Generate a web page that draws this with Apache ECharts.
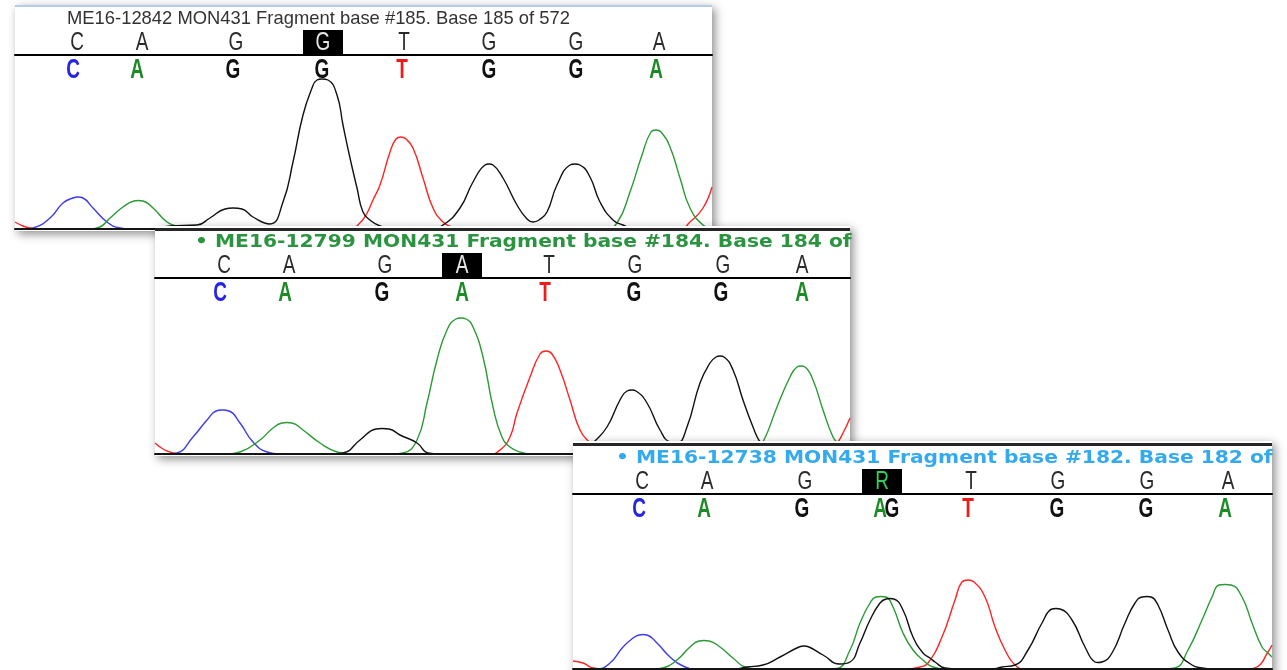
<!DOCTYPE html>
<html>
<head>
<meta charset="utf-8">
<script src="https://cdn.jsdelivr.net/npm/echarts@6/dist/echarts.min.js"></script>
<style>
html, body { margin: 0; padding: 0; background: #fff; }
#chart { width: 1287px; height: 670px; }
</style>
</head>
<body>
<div id="chart"></div>
<script>
// ---- panel 1 : ME16-12842 (x = scan offset, y = signal) ----
var p1Title = 'ME16-12842 MON431 Fragment base #185. Base 185 of 572';
var p1Calls = ['C', 'A', 'G', 'G', 'T', 'G', 'G', 'A'];
var p1CallPos = [62, 127, 221, 308, 389, 474, 561, 644];
var p1Hl = 3;
var p1Peaks = ['C', 'A', 'G', 'G', 'T', 'G', 'G', 'A'];
var p1PeakPos = [58, 122, 218, 307, 387, 474, 561, 641];
var p1T = [[0,7],[8,3],[15,1],[25,0],[335,0],[343,4],[351,14],[358,29],[365,44],[375,77],[381,90],[386,92],[391,90],[398,81],[408,51],[418,21],[428,7],[437,2],[447,0],[665,0],[675,7],[688,21],[697,42]];
var p1C = [[0,0],[10,0],[18,1],[35,11],[48,26],[58,31],[63,32],[68,31],[78,21],[92,7],[105,1],[115,0],[697,0]];
var p1A = [[0,0],[75,0],[85,2],[95,11],[108,22],[119,28],[123,28.5],[128,28],[138,21],[152,7],[162,3],[175,0],[590,0],[602,6],[615,37],[627,74],[636,97],[641,99],[646,97],[655,82],[665,51],[675,21],[688,4],[697,1]];
var p1G = [[0,0],[140,0],[155,3],[182,4],[195,11],[210,20],[218,21],[227,20],[238,12],[255,5],[268,27],[278,67],[288,114],[297,141],[302,149],[307,150],[313,149],[322,134],[328,104],[335,71],[342,41],[348,17],[355,9],[365,3],[380,0],[415,0],[428,4],[445,21],[458,47],[470,64],[474,65],[478,64],[488,51],[502,24],[512,10],[518,7],[524,9],[532,17],[542,44],[555,64],[560,65],[565,64],[575,52],[585,27],[598,9],[608,4],[620,0],[697,0]];

// ---- panel 2 : ME16-12799 ----
var p2Title = '\u2022 ME16-12799 MON431 Fragment base #184. Base 184 of';
var p2Calls = ['C', 'A', 'G', 'A', 'T', 'G', 'G', 'A'];
var p2CallPos = [69, 134, 230, 307, 394, 480, 568, 647];
var p2Hl = 3;
var p2Peaks = ['C', 'A', 'G', 'A', 'T', 'G', 'G', 'A'];
var p2PeakPos = [65, 130, 227, 307, 390, 479, 566, 647];
var p2T = [[0,11],[8,5],[15,2],[25,0],[335,0],[345,4],[355,17],[362,41],[375,77],[385,100],[391,103],[397,100],[405,84],[415,54],[425,24],[435,11],[443,4],[455,0],[670,0],[680,8],[688,21],[695,36]];
var p2C = [[0,0],[12,0],[22,1],[38,17],[52,34],[61,43],[67,44],[74,43],[85,31],[98,12],[112,2],[125,0],[695,0]];
var p2A = [[0,0],[72,0],[85,2],[105,14],[118,26],[127,31],[132,31.5],[137,31],[148,24],[165,11],[182,2],[195,0],[238,0],[248,1],[262,14],[272,51],[282,94],[292,124],[301,135],[306,136],[311,135],[318,127],[328,97],[338,47],[347,17],[355,7],[365,2],[378,0],[590,0],[600,4],[608,12],[622,47],[635,77],[642,87],[646,88],[650,87],[658,74],[668,44],[678,17],[683,11],[690,4],[695,1]];
var p2G = [[0,0],[175,0],[188,1],[205,14],[221,25],[227,25.5],[234,25],[245,19],[262,11],[273,1],[285,0],[420,0],[430,4],[438,11],[452,27],[465,54],[472,63],[477,64],[481,63],[492,51],[505,24],[515,12],[522,11],[532,27],[545,71],[555,91],[561,97],[565,98],[569,97],[578,84],[588,54],[598,27],[605,12],[613,4],[625,0],[695,0]];

// ---- panel 3 : ME16-12738 (mixed A/G call) ----
var p3Title = '\u2022 ME16-12738 MON431 Fragment base #182. Base 182 of';
var p3Calls = ['C', 'A', 'G', 'R', 'T', 'G', 'G', 'A'];
var p3CallPos = [69, 134, 232, 309, 398, 485, 574, 655];
var p3Hl = 3;
var p3Peaks = ['C', 'A', 'G', 'A', 'G', 'T', 'G', 'G', 'A'];
var p3PeakPos = [66, 131, 229, 307, 319, 395, 484, 573, 652];
var p3T = [[0,8],[10,6],[20,1],[30,0],[335,0],[347,2],[355,6],[369,32],[382,69],[389,87],[395,89],[401,87],[412,72],[422,42],[432,19],[442,4],[452,0],[674,0],[684,2],[695,17],[699,24]];
var p3C = [[0,0],[24,0],[37,6],[50,22],[60,31],[66,34],[70,34.5],[74,34],[84,26],[97,12],[110,3],[124,0],[699,0]];
var p3A = [[0,0],[80,0],[90,1],[104,9],[117,22],[126,28],[131,28.5],[136,28],[147,22],[160,11],[172,2],[185,0],[254,0],[264,0.5],[277,19],[287,46],[297,66],[303,72],[308,72.5],[313,72],[320,62],[330,36],[340,19],[350,9],[360,2],[372,0],[590,0],[602,1],[615,19],[629,49],[639,72],[646,84],[652,84.5],[658,84],[669,72],[679,46],[689,22],[695,16],[699,12]];
var p3G = [[0,0],[160,0],[174,2],[190,4],[207,12],[226,22],[231,23],[236,22],[250,14],[267,5],[277,7],[287,26],[297,49],[307,66],[313,70],[317,70.5],[321,70],[330,59],[340,32],[350,16],[357,11],[362,7],[372,1],[385,0],[418,0],[429,2],[442,4],[455,19],[469,46],[479,60],[483,60.5],[487,60],[499,49],[512,22],[522,7],[525,6.5],[529,7],[539,16],[552,46],[562,66],[569,72],[574,72.5],[578,72],[585,64],[595,39],[605,17],[619,4],[629,1],[640,0],[699,0]];

var baseColor = { A: '#1d8a26', C: '#2424e6', G: '#111111', T: '#ee1b1b' };
var traceColor = { A: '#2a9a35', C: '#3b3bf0', G: '#111111', T: '#ff2424' };

// layout of the three windows
var panels = [
  { x: 15,  y: 5,   w: 697, h: 226, top: 55,  ph: 174, z: 1,
    title: p1Title, tx: 67, ty: 19, tcolor: '#333', hlFill: '#e6e6e6',
    calls: p1Calls, callPos: p1CallPos, hl: p1Hl, peaks: p1Peaks, peakPos: p1PeakPos,
    tr: { T: p1T, C: p1C, A: p1A, G: p1G } },
  { x: 155, y: 226, w: 695, h: 230, top: 278, ph: 176, z: 10,
    title: p2Title, tx: 195, ty: 243, tcolor: '#2a9440', hlFill: '#e6e6e6',
    calls: p2Calls, callPos: p2CallPos, hl: p2Hl, peaks: p2Peaks, peakPos: p2PeakPos,
    tr: { T: p2T, C: p2C, A: p2A, G: p2G } },
  { x: 573, y: 441, w: 699, h: 240, top: 494, ph: 175, z: 20,
    title: p3Title, tx: 616, ty: 459, tcolor: '#33aaee', hlFill: '#2ed35a',
    calls: p3Calls, callPos: p3CallPos, hl: p3Hl, peaks: p3Peaks, peakPos: p3PeakPos,
    tr: { T: p3T, C: p3C, A: p3A, G: p3G } }
];

var grids = [], xAxes = [], yAxes = [], series = [], graphics = [];

panels.forEach(function (p, k) {
  graphics.push({
    type: 'rect', z: p.z,
    shape: { x: p.x, y: p.y, width: p.w, height: p.h },
    style: { fill: '#fff', shadowBlur: 9, shadowOffsetX: 3, shadowOffsetY: 3, shadowColor: 'rgba(0,0,0,0.45)' }
  });
  if (k === 0) {
    graphics.push({ type: 'rect', z: p.z + 1, shape: { x: p.x, y: p.y, width: p.w, height: 2 }, style: { fill: '#b3cde8' } });
    graphics.push({
      type: 'text', z: p.z + 1, x: p.tx, y: p.ty,
      style: { text: p.title, fill: p.tcolor, font: '18.4px "Liberation Sans", Arial, sans-serif', verticalAlign: 'middle' }
    });
  } else {
    graphics.push({ type: 'rect', z: p.z + 1, shape: { x: p.x, y: p.y + 2, width: p.w, height: 3 }, style: { fill: '#262626' } });
    graphics.push({
      type: 'text', z: p.z + 1, x: p.tx, y: p.ty, scaleX: 1.19,
      style: { text: p.title, fill: p.tcolor, font: 'bold 17px "DejaVu Sans", sans-serif', verticalAlign: 'middle' }
    });
  }

  grids.push({ left: p.x, top: p.top, width: p.w, height: p.ph, outerBoundsMode: 'none', containLabel: false, z: p.z });
  xAxes.push({
    type: 'value', gridIndex: k, position: 'top', min: 0, max: p.w, z: p.z + 4,
    axisLine: { show: true, onZero: false, lineStyle: { color: '#000', width: 2 } },
    axisTick: { show: false }, axisLabel: { show: false }, splitLine: { show: false }
  });
  xAxes.push({
    type: 'value', gridIndex: k, position: 'bottom', min: 0, max: p.w, z: p.z + 4,
    axisLine: { show: true, onZero: false, lineStyle: { color: '#141414', width: 2 } },
    axisTick: { show: false }, axisLabel: { show: false }, splitLine: { show: false }
  });
  yAxes.push({ type: 'value', gridIndex: k, min: 0, max: p.ph, show: false });

  ['C', 'T', 'A', 'G'].forEach(function (b) {
    series.push({
      type: 'line', xAxisIndex: 2 * k, yAxisIndex: k, z: p.z + 2,
      data: p.tr[b], showSymbol: false, smooth: 0.5, clip: true, silent: true,
      lineStyle: { color: traceColor[b], width: 1.4 }
    });
  });

  var ld = [];
  p.callPos.forEach(function (v, i) { ld.push([v, 0, i]); });
  p.peakPos.forEach(function (v, i) { ld.push([v, 1, i]); });
  series.push({
    type: 'custom', xAxisIndex: 2 * k, yAxisIndex: k, z: p.z + 3, silent: true, clip: false,
    data: ld,
    renderItem: function (params, api) {
      var pt = api.coord([api.value(0), p.ph]);
      var row = api.value(1), i = api.value(2);
      if (row === 0) {
        var kids = [];
        if (i === p.hl) {
          kids.push({ type: 'rect', shape: { x: pt[0] - 20, y: pt[1] - 25, width: 40, height: 25 }, style: { fill: '#000' } });
        }
        kids.push({
          type: 'text', x: pt[0], y: pt[1] - 12, scaleX: 0.76, scaleY: 1.04,
          style: { text: p.calls[i], fill: i === p.hl ? p.hlFill : '#2b2b2b',
                   font: '25px "Liberation Sans", Arial, sans-serif', align: 'center', verticalAlign: 'middle' }
        });
        return { type: 'group', children: kids };
      }
      var b = p.peaks[i];
      return {
        type: 'text', x: pt[0], y: pt[1] + 15, scaleX: 0.95, scaleY: 1.38,
        style: { text: b, fill: baseColor[b], font: 'bold 20px "Liberation Sans", Arial, sans-serif',
                 align: 'center', verticalAlign: 'middle' }
      };
    }
  });
});

var chart = echarts.init(document.getElementById('chart'));
chart.setOption({
  animation: false,
  backgroundColor: '#fff',
  grid: grids,
  xAxis: xAxes,
  yAxis: yAxes,
  graphic: { elements: graphics },
  series: series
});
</script>
</body>
</html>
